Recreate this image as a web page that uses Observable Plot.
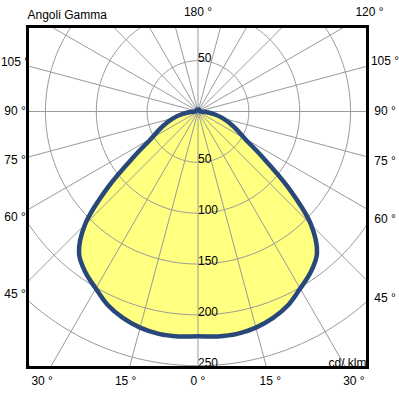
<!DOCTYPE html>
<html><head><meta charset="utf-8">
<script src="https://cdn.jsdelivr.net/npm/d3@7"></script>
<script src="https://cdn.jsdelivr.net/npm/@observablehq/plot@0.6"></script>
<style>body{margin:0;background:#fff}</style>
</head><body><div id="chart"></div>
<script>
// Photometric data (gamma angle in degrees, luminous intensity in cd/klm), symmetric
const gamma = [0,5,10,15,20,25,30,35,40,45,50,55,60,65,70,75,80,85,90,95,100,105,110,115,120,125,130,135,140,145,150,155,160,165,170,175,180];
const intensity = [221,222,222,220,216,210,201,193,182,157,115,76,53,42,33,25,17,9,3,2,2,2,2,2,2,2,2,2,2,2,2,2,2,2,2,2,2];
// Grid
const ringValues = [50,100,150,200,250,300];
const rayAngles = [0,15,30,45,60,75,90,105,120,135,150,165,180,195,210,225,240,255,270,285,300,315,330,345];
// Tick labels
const radialLabels = [50,100,150,200,250];
const upperRadialLabel = [50];
const angleLabelAngles = [-30,-15,0,15,30,-45,-60,-75,-90,-105,45,60,75,90,105,120,180];
const angleLabelTexts = ["30 °","15 °","0 °","15 °","30 °","45 °","60 °","75 °","90 °","105 °","45 °","60 °","75 °","90 °","105 °","120 °","180 °"];
const titleText = "Angoli Gamma";
const unitText = "cd/ klm";

// Layout (pixels)
const W = 399, H = 395;
const frameL = 27, frameR = 367, frameT = 26, frameB = 367;
const cx = 197.5, cy = 111, k = 1.017; // center and px per cd
const rad = d => d * Math.PI / 180;

// curve points (closed loop)
const curve = [];
gamma.forEach((g, i) => curve.push({g, I: intensity[i]}));
for (let i = gamma.length - 2; i >= 1; i--) curve.push({g: -gamma[i], I: intensity[i]});
curve.forEach(d => { d.x = d.I * Math.sin(rad(d.g)); d.y = d.I * Math.cos(rad(d.g)); });

const ringPts = [];
ringValues.forEach(r => { for (let a = 0; a < 360; a += 2) ringPts.push({r, x: r*Math.sin(rad(a)), y: r*Math.cos(rad(a))}); });
const RMAX = 500;
const rays = rayAngles.map(a => ({x2: RMAX*Math.sin(rad(a)), y2: RMAX*Math.cos(rad(a))}));

// outer label rectangle (px offsets from center)
const oL = -183, oR = 187, oT = -99, oB = 270;
const angleLabels = angleLabelAngles.map((a, i) => {
  const dx = Math.sin(rad(a)), dy = Math.cos(rad(a));
  let t = Infinity;
  if (dx > 1e-9) t = Math.min(t, oR/dx);
  if (dx < -1e-9) t = Math.min(t, oL/dx);
  if (dy > 1e-9) t = Math.min(t, oB/dy);
  if (dy < -1e-9) t = Math.min(t, oT/dy);
  return {x: t*dx/k, y: t*dy/k, text: angleLabelTexts[i]};
});

const chart = Plot.plot({
  width: W, height: H,
  marginLeft: frameL, marginRight: W - frameR, marginTop: frameT, marginBottom: H - frameB,
  x: {domain: [(frameL - cx)/k, (frameR - cx)/k], axis: null},
  y: {domain: [(frameB - cy)/k, (frameT - cy)/k], axis: null},
  style: {fontFamily: "'Liberation Sans', Arial, sans-serif", fontSize: "12px", background: "#fff", color: "#000"},
  marks: [
    Plot.line(curve, {x: "x", y: "y", curve: "catmull-rom-closed", fill: "#ffff80", stroke: "none"}),
    Plot.line(ringPts, {x: "x", y: "y", z: "r", curve: "linear-closed", stroke: "#9a9a9a", strokeWidth: 1, clip: true}),
    Plot.link(rays, {x1: 0, y1: 0, x2: "x2", y2: "y2", stroke: "#9a9a9a", strokeWidth: 1, clip: true}),
    Plot.line(curve, {x: "x", y: "y", curve: "catmull-rom-closed", stroke: "#29487a", strokeWidth: 4.5, fill: "none"}),
    Plot.text(radialLabels, {x: 0, y: d => d, text: d => String(d), textAnchor: "start", lineAnchor: "bottom", fill: "#000", dy: 1}),
    Plot.text(upperRadialLabel, {x: 0, y: d => -d, text: d => String(d), textAnchor: "start", lineAnchor: "bottom", fill: "#000", dy: 1}),
    Plot.frame({stroke: "#000", strokeWidth: 3}),
    Plot.text(angleLabels, {x: "x", y: "y", text: "text", textAnchor: "middle", lineAnchor: "middle", fill: "#000"}),
    Plot.text([titleText], {frameAnchor: "top-left", text: d => d, textAnchor: "start", lineAnchor: "bottom", dy: -8, fill: "#000"}),
    Plot.text([unitText], {frameAnchor: "bottom-right", text: d => d, textAnchor: "end", lineAnchor: "bottom", dx: -1, dy: -1, fill: "#000"})
  ]
});
document.getElementById("chart").appendChild(chart);
</script>
</body></html>
